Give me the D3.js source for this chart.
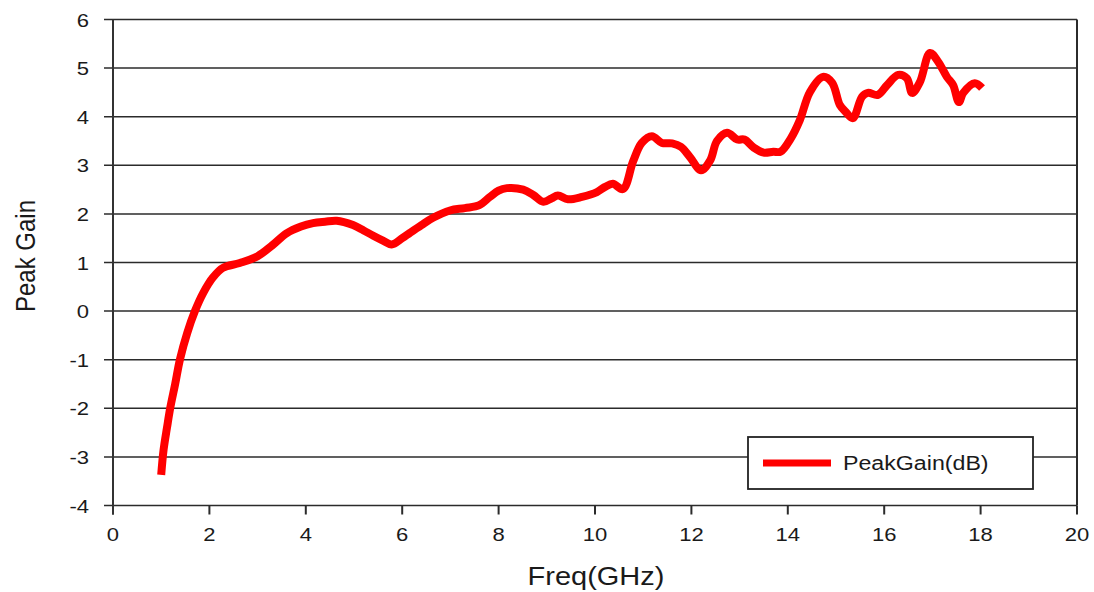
<!DOCTYPE html>
<html>
<head>
<meta charset="utf-8">
<script src="https://cdn.jsdelivr.net/npm/d3@7/dist/d3.min.js"></script>
<style>
  body { margin: 0; background: #fff; }
  text { font-family: "Liberation Sans", Arial, sans-serif; fill: #1a1a1a; }
</style>
</head>
<body>
<div class="chart"></div>
<script>
// values
var freq = [1.0, 1.05, 1.12, 1.19, 1.29, 1.39, 1.54, 1.70, 1.87, 2.08, 2.28, 2.63, 3.0, 3.3, 3.6, 3.9,
  4.15, 4.4, 4.64, 4.98, 5.2, 5.4, 5.6, 5.78, 6.0, 6.16, 6.4, 6.64, 6.99, 7.3, 7.6, 7.82, 8.0, 8.17,
  8.51, 8.72, 8.93, 9.1, 9.23, 9.44, 9.73, 10.04, 10.2, 10.37, 10.58, 10.79, 10.97, 11.18, 11.39, 11.6,
  11.78, 11.97, 12.2, 12.39, 12.53, 12.74, 12.95, 13.1, 13.3, 13.5, 13.7, 13.85, 14.06, 14.25, 14.46,
  14.73, 14.92, 15.08, 15.2, 15.35, 15.54, 15.66, 15.87, 16.06, 16.29, 16.47, 16.58, 16.74, 16.95,
  17.12, 17.3, 17.43, 17.55, 17.64, 17.88, 18.03];
var gain = [-3.37, -2.85, -2.4, -1.98, -1.5, -0.99, -0.45, 0.0, 0.37, 0.70, 0.89, 0.99, 1.13, 1.35, 1.6, 1.74,
  1.81, 1.84, 1.86, 1.77, 1.66, 1.55, 1.45, 1.37, 1.5, 1.61, 1.77, 1.92, 2.07, 2.12, 2.18, 2.35, 2.48, 2.53,
  2.5, 2.39, 2.25, 2.32, 2.38, 2.3, 2.35, 2.45, 2.55, 2.62, 2.51, 3.08, 3.46, 3.6, 3.46, 3.45,
  3.38, 3.17, 2.9, 3.1, 3.5, 3.67, 3.53, 3.53, 3.36, 3.26, 3.28, 3.28, 3.55, 3.93, 4.51,
  4.82, 4.7, 4.24, 4.1, 3.97, 4.41, 4.49, 4.45, 4.65, 4.86, 4.79, 4.49, 4.71, 5.31,
  5.13, 4.82, 4.65, 4.3, 4.49, 4.69, 4.59];
var xTicks = [0, 2, 4, 6, 8, 10, 12, 14, 16, 18, 20];
var yTicks = [-4, -3, -2, -1, 0, 1, 2, 3, 4, 5, 6];
var seriesName = "PeakGain(dB)";

var width = 1094, height = 592;
var stretch = 1.16; // reference text looks wider than tall
var x = d3.scaleLinear().domain([0, 20]).range([113, 1077]);
var y = d3.scaleLinear().domain([-4, 6]).range([505.5, 19.5]);

var svg = d3.select(".chart").append("svg")
  .attr("width", width)
  .attr("height", height);

// gridlines + y ticks
svg.selectAll(".grid")
  .data(yTicks)
  .enter()
  .append("line")
  .attr("x1", 104)
  .attr("x2", x(20))
  .attr("y1", function(d){ return y(d); })
  .attr("y2", function(d){ return y(d); })
  .style("stroke", "#2b2b2b")
  .style("stroke-width", 1.5);

// x ticks
svg.selectAll(".xtick")
  .data(xTicks)
  .enter()
  .append("line")
  .attr("x1", function(d){ return x(d); })
  .attr("x2", function(d){ return x(d); })
  .attr("y1", y(-4))
  .attr("y2", y(-4) + 9)
  .style("stroke", "#2b2b2b")
  .style("stroke-width", 2);

// left axis and right border
svg.append("line")
  .attr("x1", x(0)).attr("x2", x(0))
  .attr("y1", y(6)).attr("y2", y(-4) + 9)
  .style("stroke", "#333").style("stroke-width", 2);
svg.append("line")
  .attr("x1", x(20)).attr("x2", x(20))
  .attr("y1", y(6)).attr("y2", y(-4))
  .style("stroke", "#2b2b2b").style("stroke-width", 2);

function label(px, py, str, size, anchor) {
  return svg.append("text")
    .attr("transform", "translate(" + px + "," + py + ") scale(" + stretch + ",1)")
    .attr("text-anchor", anchor)
    .style("font-size", size + "px")
    .text(str);
}

yTicks.forEach(function(d){ label(89, y(d) + 7, d, 19, "end"); });
xTicks.forEach(function(d){ label(x(d), 541, d, 19, "middle"); });

label(596, 585, "Freq(GHz)", 25, "middle");
svg.append("text")
  .attr("transform", "translate(35,256) scale(" + stretch + ",1) rotate(-90)")
  .attr("text-anchor", "middle")
  .style("font-size", "24px")
  .text("Peak Gain");

// the curve
var pts = freq.map(function(f, i){ return [f, gain[i]]; });
var line = d3.line()
  .x(function(d){ return x(d[0]); })
  .y(function(d){ return y(d[1]); })
  .curve(d3.curveCatmullRom);

svg.append("path")
  .attr("d", line(pts))
  .style("fill", "none")
  .style("stroke", "#ff0000")
  .style("stroke-width", 8)
  .style("stroke-linejoin", "round");

// legend
var legend = svg.append("g");
legend.append("rect")
  .attr("x", 748).attr("y", 437)
  .attr("width", 285).attr("height", 52)
  .style("fill", "#fff")
  .style("stroke", "#222")
  .style("stroke-width", 1.8);
legend.append("line")
  .attr("x1", 763).attr("x2", 831)
  .attr("y1", 463).attr("y2", 463)
  .style("stroke", "#ff0000")
  .style("stroke-width", 7);
label(843, 470, seriesName, 20, "start");
</script>
</body>
</html>
